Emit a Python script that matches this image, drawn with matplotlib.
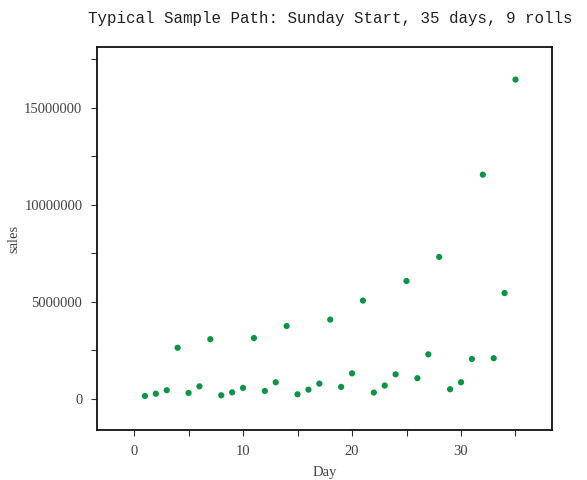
import matplotlib
matplotlib.use('Agg')
import matplotlib.pyplot as plt
from matplotlib.ticker import MultipleLocator

# Data
day = list(range(1, 36))
sales = [155000, 270000, 450000, 2640000, 310000, 650000, 3080000,
         190000, 340000, 570000, 3140000, 410000, 860000, 3760000,
         240000, 480000, 790000, 4090000, 620000, 1320000, 5070000,
         330000, 690000, 1270000, 6080000, 1070000, 2300000, 7320000,
         500000, 860000, 2060000, 11560000, 2100000, 5460000, 16460000]

title = 'Typical Sample Path: Sunday Start, 35 days, 9 rolls'

plt.rcParams['font.family'] = ['Liberation Serif', 'DejaVu Serif']

fig = plt.figure(figsize=(5.87, 4.8), dpi=100)
ax = fig.add_axes([97/587, 1-430/480, (552-97)/587, (430-47)/480])

ax.scatter(day, sales, s=20, color='#0b9444', edgecolors='none', zorder=3)

ax.set_xlim(-3.4, 38.35)
ax.set_ylim(-1600000, 18140000)
ax.xaxis.set_major_locator(MultipleLocator(10))
ax.xaxis.set_minor_locator(MultipleLocator(5))
ax.yaxis.set_major_locator(MultipleLocator(5000000))
ax.yaxis.set_minor_locator(MultipleLocator(2500000))
ax.ticklabel_format(axis='y', style='plain', useOffset=False)
ax.tick_params(which='both', direction='out', length=4.5, width=0.8,
               labelsize=10.5, colors='#333333', labelcolor='#444444',
               top=False, right=False, pad=6)
for sp in ax.spines.values():
    sp.set_linewidth(1.3)
    sp.set_color('#111111')

ax.set_xlabel('Day', fontsize=10.5, color='#444444', labelpad=6)
ax.set_ylabel('sales', fontsize=10.5, color='#444444', labelpad=3)

fig.text(88/587, 1-19/480, title, family='Liberation Mono', fontsize=11.4,
         ha='left', va='center', color='#222222')

fig.savefig('out.png', dpi=100)
